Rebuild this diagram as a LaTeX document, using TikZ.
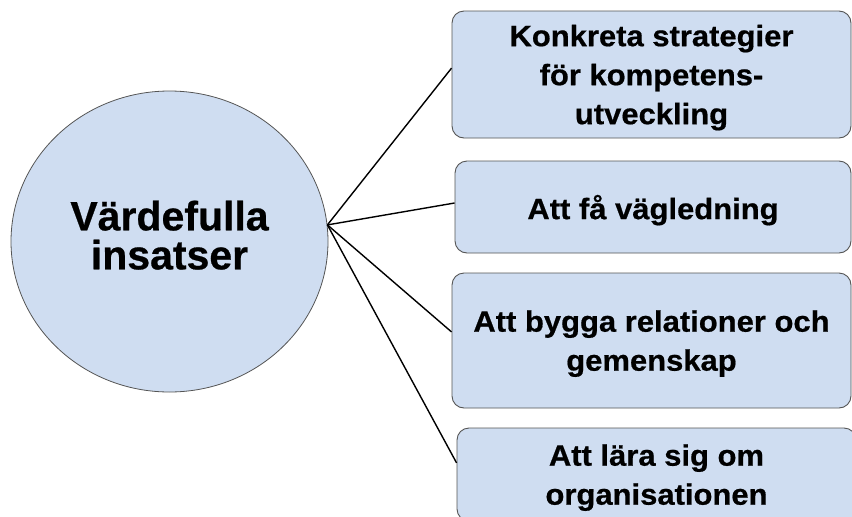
\documentclass[tikz,border=0pt]{standalone}
\usepackage{fontspec}
\setmainfont{Liberation Sans}
\newfontfamily\boxfont[FakeStretch=1.05,FakeBold=0.6]{Liberation Sans Bold}
\newfontfamily\circfont[FakeBold=0.6]{Liberation Sans Bold}
\usetikzlibrary{calc,shapes.geometric}
\definecolor{fillblue}{RGB}{207,221,241}
\definecolor{edgegray}{RGB}{85,85,85}
\begin{document}
\begin{tikzpicture}[x=1pt,y=-1pt,
  circ/.style={ellipse, draw=edgegray, line width=0.8pt, fill=fillblue, inner sep=0pt,
    align=center, text depth=13pt, font=\circfont\fontsize{41}{39}\selectfont},
  itembox/.style={rectangle, rounded corners=12pt, draw=edgegray, line width=0.9pt,
    fill=fillblue, inner sep=0pt, align=center, text depth=-1pt,
    font=\boxfont\fontsize{29.5}{39}\selectfont},
  conn/.style={draw=black, line width=1.4pt}]
\useasboundingbox (0,0) rectangle (852,517);
\clip (0,0) rectangle (852,517);
\fill[white] (0,0) rectangle (852,517);
\node[circ, minimum width=317pt, minimum height=301pt] (c) at (169.5,241.5) {Värdefulla\\insatser};
\node[itembox, minimum width=399pt, minimum height=127pt] (b1) at (651.5,74.5)
  {Konkreta strategier\\för kompetens-\\utveckling};
\node[itembox, minimum width=396pt, minimum height=92pt] (b2) at (653,207)
  {Att få vägledning};
\node[itembox, minimum width=399pt, minimum height=135pt] (b3) at (651.5,340.5)
  {Att bygga relationer och\\gemenskap};
\node[itembox, minimum width=399pt, minimum height=93pt] (b4) at (656.5,474.5)
  {Att lära sig om\\organisationen};
\draw[conn] (c.6) -- ($(b1.north west)!0.45!(b1.south west)$);
\draw[conn] (c.6) -- ($(b2.north west)!0.457!(b2.south west)$);
\draw[conn] (c.6) -- ($(b3.north west)!0.437!(b3.south west)$);
\draw[conn] (c.6) -- ($(b4.north west)!0.376!(b4.south west)$);
\end{tikzpicture}
\end{document}
